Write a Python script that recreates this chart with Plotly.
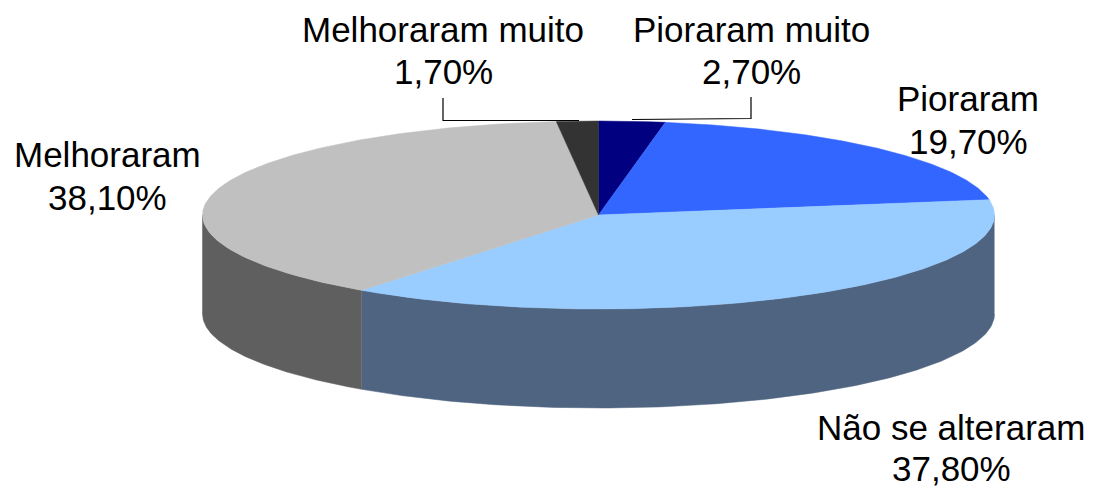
import numpy as np
import plotly.graph_objects as go

categories = ["Pioraram muito", "Pioraram", "Não se alteraram", "Melhoraram", "Melhoraram muito"]
values = [2.7, 19.7, 37.8, 38.1, 1.7]
value_labels = ["2,70%", "19,70%", "37,80%", "38,10%", "1,70%"]

top_colors = ["#000080", "#3366FF", "#99CCFF", "#C0C0C0", "#333333"]
side_colors = ["#00004D", "#1F3D99", "#4F6480", "#5F5F5F", "#1F1F1F"]

W, H = 1093, 487
CX, CY, RX, RY, DEPTH = 598.5, 215.0, 396.0, 94.0, 99.0
FONT = dict(family="Liberation Sans, Arial, sans-serif", size=35, color="#000000")
LABEL_POS = {
    "Pioraram muito": (751, 29, 71),
    "Pioraram": (968, 98, 141),
    "Não se alteraram": (951, 427, 468),
    "Melhoraram": (107, 154, 197),
    "Melhoraram muito": (443, 29, 71),
}


def ell(t_deg):
    t = np.radians(t_deg)
    return CX + RX * np.sin(t), CY - RY * np.cos(t)


fig = go.Figure()
edges = np.concatenate([[0], np.cumsum(values)]) * 3.6

# side walls (only the front half, 90..270 degrees, is visible)
for i in range(len(values)):
    a, b = max(edges[i], 90), min(edges[i + 1], 270)
    if b <= a:
        continue
    t = np.linspace(a, b, 160)
    x, y = ell(t)
    fig.add_trace(go.Scatter(
        x=np.concatenate([x, x[::-1]]),
        y=np.concatenate([y, y[::-1] + DEPTH]),
        mode="lines", fill="toself", fillcolor=side_colors[i],
        line=dict(color=side_colors[i], width=0.5), hoverinfo="skip", showlegend=False,
    ))

# top wedges
for i in range(len(values)):
    t = np.linspace(edges[i], edges[i + 1], 200)
    x, y = ell(t)
    fig.add_trace(go.Scatter(
        x=np.concatenate([[CX], x, [CX]]),
        y=np.concatenate([[CY], y, [CY]]),
        mode="lines", fill="toself", fillcolor=top_colors[i],
        line=dict(color=top_colors[i], width=0.5),
        name=categories[i], hoverinfo="name", showlegend=False,
    ))

# leader lines for the two small slices
for lx, ly in [([443, 443, 579], [98, 120.5, 120.5]), ([632, 751, 751], [119.5, 118.5, 97])]:
    fig.add_trace(go.Scatter(x=lx, y=ly, mode="lines", line=dict(color="#000000", width=1.2),
                             hoverinfo="skip", showlegend=False))

for name, lab in zip(categories, value_labels):
    px, y1, y2 = LABEL_POS[name]
    for txt, py in ((name, y1), (lab, y2)):
        fig.add_annotation(x=px, y=py, text=txt, showarrow=False, font=FONT,
                           xanchor="center", yanchor="middle", align="center")

fig.update_layout(
    width=W, height=H, margin=dict(l=0, r=0, t=0, b=0),
    paper_bgcolor="white", plot_bgcolor="white",
    xaxis=dict(range=[0, W], visible=False, fixedrange=True),
    yaxis=dict(range=[H, 0], visible=False, fixedrange=True),
)
fig.write_html("out.html", config=dict(displayModeBar=False),
               post_script="document.body.style.margin='0';document.body.style.overflow='hidden';")
